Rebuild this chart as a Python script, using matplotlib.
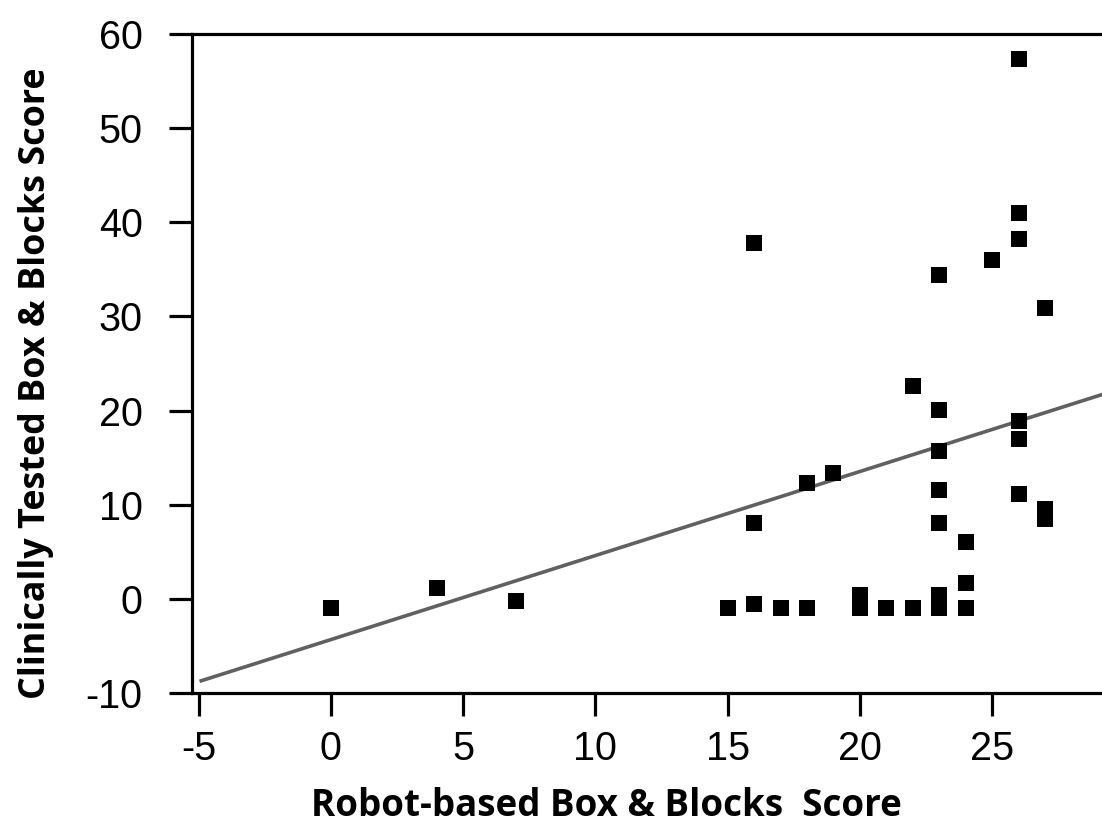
import matplotlib.pyplot as plt

plt.rcParams["axes.unicode_minus"] = False

# robot-based score vs clinically tested score
robot = [0, 4, 7,
         15, 16, 17, 18, 20, 20, 21, 22, 23, 23, 24, 24,
         16, 18, 19, 22, 23, 23, 23, 23, 24, 26, 26, 26, 27, 27,
         26, 16, 23, 25, 26, 26, 27]
clinic = [-1.0, 1.2, -0.2,
          -1.0, -0.6, -1.0, -1.0, 0.4, -1.0, -1.0, -1.0, 0.4, -1.0, 1.7, -1.0,
          8.1, 12.3, 13.4, 22.6, 20.1, 15.7, 11.6, 8.1, 6.0, 18.9, 17.0, 11.1, 9.5, 8.5,
          57.3, 37.8, 34.4, 36.0, 41.0, 38.2, 30.9]

# fitted line
slope = 0.893
intercept = -4.33
line_x = [-4.9, 30]

fig = plt.figure(figsize=(11.02, 8.32), dpi=100)
ax = fig.add_axes([0.1742, 0.1671, 0.8258, 0.7920])

ax.plot(line_x, [slope * v + intercept for v in line_x], color="#606060", lw=2.6, zorder=2)
ax.scatter(robot, clinic, marker="s", s=135, color="black", linewidths=0, zorder=3)

ax.set_xlim(-5.25, 29.15)
ax.set_ylim(-10, 60)
ax.set_xticks([-5, 0, 5, 10, 15, 20, 25])
ax.set_yticks([-10, 0, 10, 20, 30, 40, 50, 60])

ax.spines["right"].set_visible(False)
for s in ["left", "bottom", "top"]:
    ax.spines[s].set_linewidth(2.3)

ax.tick_params(direction="out", length=16.5, width=2.3, labelsize=28.5)
ax.tick_params(axis="x", pad=10)
ax.tick_params(axis="y", pad=19)
for lab in ax.get_xticklabels() + ax.get_yticklabels():
    lab.set_fontfamily("Liberation Sans")

ax.set_xlabel("Robot-based Box & Blocks  Score", fontsize=26.5, fontweight="bold",
              fontfamily="Open Sans")
ax.set_ylabel("Clinically Tested Box & Blocks Score", fontsize=25.8, fontweight="bold",
              fontfamily="Open Sans")
ax.xaxis.set_label_coords(0.455, -0.143)
ax.yaxis.set_label_coords(-0.152, 0.47)

fig.savefig("out.png", dpi=100)
